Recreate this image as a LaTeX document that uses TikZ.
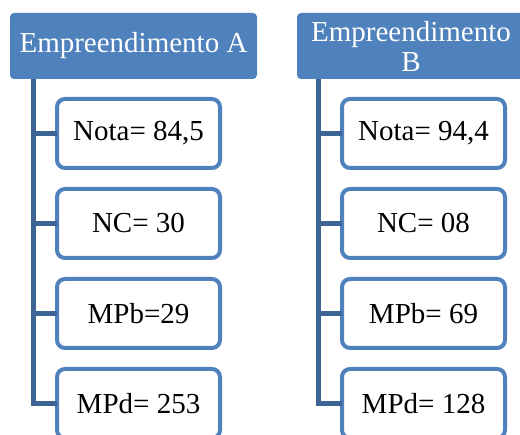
\documentclass[tikz,border=0pt]{standalone}
\usepackage{fontspec}
\setmainfont{Liberation Serif}
\usepackage{tikz}
\usetikzlibrary{positioning}
\usetikzlibrary{calc}
\definecolor{headblue}{HTML}{4F81BD}
\definecolor{treeblue}{HTML}{3C6595}
\tikzset{
    % tree line style
    tree/.style={
           draw=treeblue,
           line width=5pt,
           line join=miter,}
}
\newcommand{\boxwidth}{163pt}
\newcommand{\boxheight}{69pt}

\begin{document}
\begin{tikzpicture}[x=1pt, y=-1pt, node distance=21pt, outer sep=0pt]
\tikzstyle{head}=[rectangle, rounded corners=4pt, fill=headblue, text=white, minimum height=66pt, align=center, font=\fontsize{29}{30}\selectfont, inner sep=2pt]
\tikzstyle{leaf}=[draw=headblue, line width=4pt, rectangle, rounded corners=8pt, fill=white, minimum height=\boxheight, minimum width=\boxwidth, font=\fontsize{29}{30}\selectfont]

\useasboundingbox (0,0) rectangle (520,435);

\node[head, minimum width=247pt] (headA) at (133.5,46) {Empreendimento A};
\node[head, minimum width=228pt] (headB) at (411,46) {Empreendimento\\B};

\node[leaf] (notaA) at (138.5,133.5) {Nota= 84,5};
\node[leaf] (ncA)  [below = of notaA] {NC= 30};
\node[leaf] (mpbA) [below = of ncA] {MPb=29};
\node[leaf] (mpdA) [below = of mpbA] {MPd= 253};

\node[leaf] (notaB) at (423.5,133.5) {Nota= 94,4};
\node[leaf] (ncB)  [below = of notaB] {NC= 08};
\node[leaf] (mpbB) [below = of ncB] {MPb= 69};
\node[leaf] (mpdB) [below = of mpbB] {MPd= 128};

\coordinate (trunkA) at ($(headA.south west)+(23.5,0)$);
\coordinate (trunkB) at ($(headB.south west)+(21,0)$);

\draw[tree] (trunkA) |- (mpdA.west);
\draw[tree] (trunkA |- notaA.west) -- (notaA.west);
\draw[tree] (trunkA |- ncA.west) -- (ncA.west);
\draw[tree] (trunkA |- mpbA.west) -- (mpbA.west);

\draw[tree] (trunkB) |- (mpdB.west);
\draw[tree] (trunkB |- notaB.west) -- (notaB.west);
\draw[tree] (trunkB |- ncB.west) -- (ncB.west);
\draw[tree] (trunkB |- mpbB.west) -- (mpbB.west);

\end{tikzpicture}
\end{document}
